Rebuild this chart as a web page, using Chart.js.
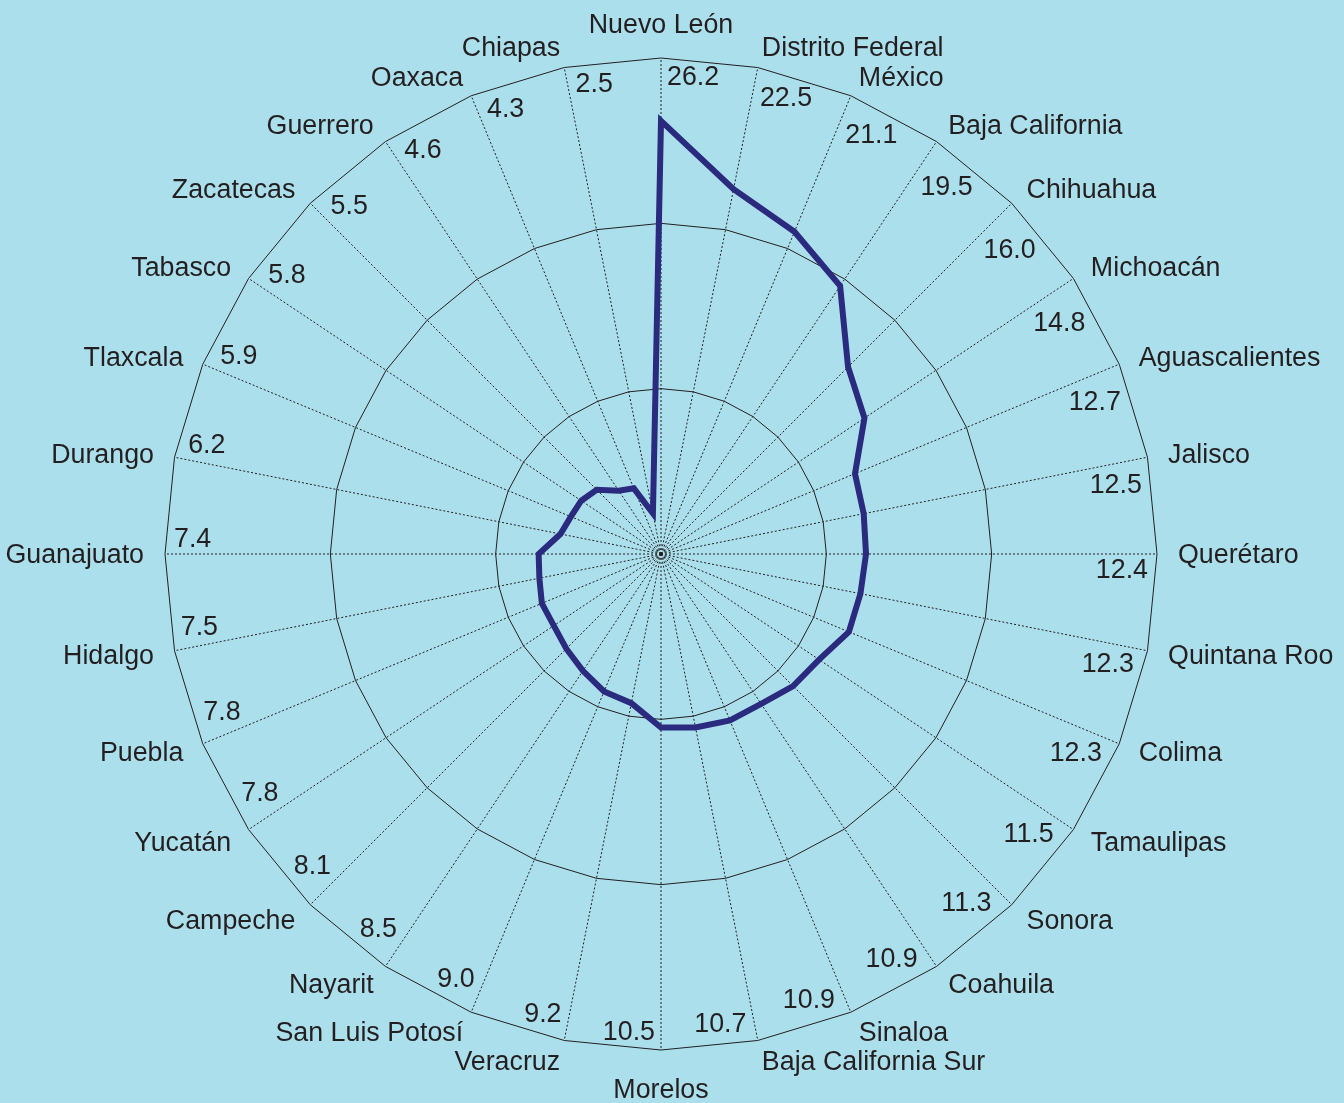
<!DOCTYPE html>
<html>
<head>
<meta charset="utf-8">
<script src="https://cdn.jsdelivr.net/npm/chart.js@4.4.0/dist/chart.umd.min.js"></script>
<style>
  body { margin: 0; background: #acdfec; }
  #wrap { width: 1344px; height: 1103px; }
</style>
</head>
<body>
<div id="wrap"><canvas id="chart"></canvas></div>
<script>
// estados, en el orden de las agujas del reloj desde arriba
const estados = [
  'Nuevo León', 'Distrito Federal', 'México', 'Baja California', 'Chihuahua',
  'Michoacán', 'Aguascalientes', 'Jalisco', 'Querétaro', 'Quintana Roo',
  'Colima', 'Tamaulipas', 'Sonora', 'Coahuila', 'Sinaloa',
  'Baja California Sur', 'Morelos', 'Veracruz', 'San Luis Potosí', 'Nayarit',
  'Campeche', 'Yucatán', 'Puebla', 'Hidalgo', 'Guanajuato',
  'Durango', 'Tlaxcala', 'Tabasco', 'Zacatecas', 'Guerrero',
  'Oaxaca', 'Chiapas'
];
const valores = [
  26.2, 22.5, 21.1, 19.5, 16.0,
  14.8, 12.7, 12.5, 12.4, 12.3,
  12.3, 11.5, 11.3, 10.9, 10.9,
  10.7, 10.5, 9.2, 9.0, 8.5,
  8.1, 7.8, 7.8, 7.5, 7.4,
  6.2, 5.9, 5.8, 5.5, 4.6,
  4.3, 2.5
];
const escalaMin = 0;
const escalaMax = 30;
const paso = 10;

const tamFuente = 26.8;
const fuente = tamFuente + 'px "Liberation Sans", Arial, sans-serif';
const colorTexto = '#231f20';

// nombres por fuera y valores junto a cada radio
const etiquetas = {
  id: 'etiquetas',
  afterDraw(chart) {
    const s = chart.scales.r;
    const ctx = chart.ctx;
    ctx.save();
    ctx.font = fuente;
    ctx.fillStyle = colorTexto;

    estados.forEach((nombre, i) => {
      const a = s.getIndexAngle(i);
      const sn = Math.sin(a);
      const cs = Math.cos(a);
      let r = s.drawingArea + 21;
      if (Math.abs(sn) < 0.01) {
        ctx.textAlign = 'center';
        ctx.textBaseline = cs > 0 ? 'bottom' : 'top';
        if (cs < 0) r += 4;
      } else {
        ctx.textAlign = sn > 0 ? 'left' : 'right';
        ctx.textBaseline = 'middle';
      }
      const x = s.xCenter + sn * r;
      const y = s.yCenter - cs * r + 2;
      ctx.fillText(nombre, x, y);
    });

    // el valor va pegado al radio, del lado de las agujas del reloj
    ctx.textAlign = 'center';
    ctx.textBaseline = 'middle';
    const alto = tamFuente * 0.72;
    valores.forEach((v, i) => {
      const txt = v.toFixed(1);
      const w = ctx.measureText(txt).width;
      const a = s.getIndexAngle(i);
      const dx = Math.sin(a), dy = -Math.cos(a);   // radial
      const tx = Math.cos(a), ty = Math.sin(a);    // tangencial
      const extR = Math.abs(dx) * w / 2 + Math.abs(dy) * alto / 2;
      const extT = Math.abs(tx) * w / 2 + Math.abs(ty) * alto / 2;
      const rr = s.drawingArea - 9 - extR;
      const tt = extT + 6;
      const x = s.xCenter + dx * rr + tx * tt;
      const y = s.yCenter + dy * rr + ty * tt + 1;
      ctx.fillText(txt, x, y);
    });
    ctx.restore();
  }
};

new Chart(document.getElementById('chart'), {
  type: 'radar',
  data: {
    labels: estados,
    datasets: [{
      data: valores,
      borderColor: '#2a2a7e',
      borderWidth: 6,
      fill: false,
      pointRadius: 0,
      tension: 0
    }]
  },
  options: {
    responsive: true,
    maintainAspectRatio: false,
    animation: false,
    plugins: { legend: { display: false }, tooltip: { enabled: false } },
    scales: {
      r: {
        min: escalaMin,
        max: escalaMax,
        ticks: { stepSize: paso, display: false },
        grid: { color: colorTexto, lineWidth: 1 },
        angleLines: { color: colorTexto, lineWidth: 1, borderDash: [2, 2] },
        pointLabels: { display: false },
        afterFit(scale) {
          scale.xCenter = 661;
          scale.yCenter = 554;
          scale.drawingArea = 496;
        }
      }
    }
  },
  plugins: [etiquetas]
});
</script>
</body>
</html>
